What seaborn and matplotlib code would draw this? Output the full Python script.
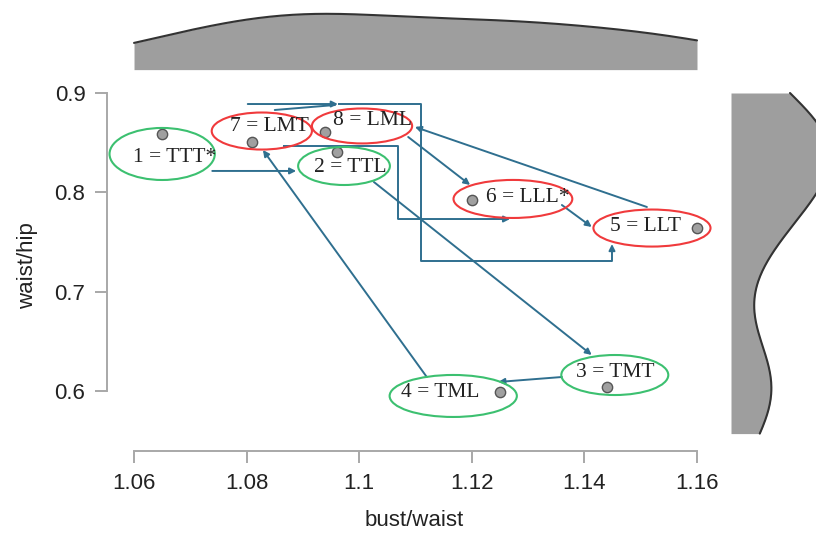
import numpy as np
import pandas as pd
import matplotlib
matplotlib.use('Agg')
import matplotlib.pyplot as plt
import seaborn as sns
from matplotlib.patches import Ellipse

# data (groups 1..8)
labels = ['1 = TTT*', '2 = TTL', '3 = TMT', '4 = TML', '5 = LLT', '6 = LLL*', '7 = LMT', '8 = LML']
bust_waist = [1.065, 1.096, 1.144, 1.125, 1.160, 1.120, 1.081, 1.094]
waist_hip = [0.859, 0.841, 0.604, 0.599, 0.764, 0.792, 0.851, 0.861]
group = ['T', 'T', 'T', 'T', 'L', 'L', 'L', 'L']

# label / ellipse placement (data units)
label_x = [1.0673, 1.0985, 1.1454, 1.1144, 1.1508, 1.1300, 1.0840, 1.1023]
label_y = [0.8355, 0.8245, 0.6190, 0.5979, 0.7651, 0.7943, 0.8658, 0.8728]
ell_x = [1.0650, 1.0973, 1.1454, 1.1167, 1.1520, 1.1273, 1.0827, 1.1005]
ell_y = [0.8386, 0.8265, 0.6160, 0.5949, 0.7640, 0.7933, 0.8617, 0.8668]
ell_w = [0.0187, 0.0163, 0.0190, 0.0226, 0.0208, 0.0211, 0.0178, 0.0178]
ell_h = [0.0524, 0.0383, 0.0403, 0.0423, 0.0373, 0.0383, 0.0373, 0.0352]

# connector paths, arrow head at the last vertex
arrow_paths = [
    [(1.0739, 0.8215), (1.0888, 0.8215)],
    [(1.0802, 0.8889), (1.0962, 0.8889)],
    [(1.0962, 0.8889), (1.1110, 0.8889), (1.1110, 0.7308), (1.1449, 0.7308), (1.1449, 0.7479)],
    [(1.0865, 0.8466), (1.1069, 0.8466), (1.1069, 0.7731), (1.1268, 0.7731)],
    [(1.1087, 0.8557), (1.1197, 0.8074)],
    [(1.1360, 0.7872), (1.1413, 0.7651)],
    [(1.1511, 0.7852), (1.1099, 0.8658)],
    [(1.1026, 0.8104), (1.1413, 0.6362)],
    [(1.1360, 0.6140), (1.1247, 0.6090)],
    [(1.1120, 0.6140), (1.0829, 0.8426)],
]
plain_lines = [
    [(1.0850, 0.8829), (1.0957, 0.8879)],
]

df = pd.DataFrame({'bust/waist': bust_waist, 'waist/hip': waist_hip, 'group': group})

sns.set_style('ticks')
plt.rcParams['font.family'] = ['Liberation Sans', 'DejaVu Sans']

W, H = 816, 536
fig = plt.figure(figsize=(W / 100, H / 100), dpi=100)

def box(l, t, r, b):
    return [l / W, 1 - b / H, (r - l) / W, (b - t) / H]

ax = fig.add_axes(box(107, 80, 722, 451))
ax_top = fig.add_axes(box(107, 8, 722, 72), sharex=ax)
ax_right = fig.add_axes(box(731, 80, 816, 451), sharey=ax)

grey = '#9e9e9e'
arrow_col = '#2f6f8f'
colors = {'T': '#3cc070', 'L': '#f03a3c'}

# connectors
for path in plain_lines:
    xs, ys = zip(*path)
    ax.plot(xs, ys, color=arrow_col, lw=1.4, zorder=2)
for path in arrow_paths:
    xs, ys = zip(*path)
    if len(path) > 2:
        ax.plot(xs[:-1], ys[:-1], color=arrow_col, lw=1.4, zorder=2, solid_capstyle='butt')
    ax.annotate('', xy=path[-1], xytext=path[-2],
                arrowprops=dict(arrowstyle='-|>', color=arrow_col, lw=1.4,
                                mutation_scale=9, shrinkA=0, shrinkB=0), zorder=2)

# points
sns.scatterplot(data=df, x='bust/waist', y='waist/hip', ax=ax, color='#a0a0a0',
                edgecolor='#555555', linewidth=1.0, s=55, zorder=3, legend=False)

# ellipses and labels
for i in range(len(labels)):
    ax.add_patch(Ellipse((ell_x[i], ell_y[i]), ell_w[i], ell_h[i], fill=False,
                         edgecolor=colors[group[i]], lw=1.5, zorder=4))
    ax.text(label_x[i], label_y[i], labels[i], ha='center', va='center',
            fontsize=15.5, family='Liberation Serif', color='#222222', zorder=5)

ax.set_xlim(1.0552, 1.16444)
ax.set_ylim(0.53948, 0.91309)
ax.set_xticks([1.06, 1.08, 1.1, 1.12, 1.14, 1.16])
ax.set_xticklabels(['1.06', '1.08', '1.1', '1.12', '1.14', '1.16'])
ax.set_yticks([0.6, 0.7, 0.8, 0.9])
ax.set_yticklabels(['0.6', '0.7', '0.8', '0.9'])
sns.despine(ax=ax)
ax.spines['left'].set_bounds(0.6, 0.9)
ax.spines['bottom'].set_bounds(1.06, 1.16)
for sp in ['left', 'bottom']:
    ax.spines[sp].set_color('#a8a8a8')
    ax.spines[sp].set_linewidth(1.4)
ax.tick_params(axis='both', length=8.5, width=1.4, color='#a8a8a8',
               labelsize=16, labelcolor='#222222', pad=7)
ax.set_xlabel('bust/waist', fontsize=16, color='#222222', labelpad=12)
ax.set_ylabel('waist/hip', fontsize=16, color='#222222', labelpad=12)

# marginal densities
bw_x, bw_y = 0.8, 0.75
sns.kdeplot(x=bust_waist, ax=ax_top, fill=True, color=grey, alpha=1, linewidth=0,
            clip=(1.06, 1.16), bw_adjust=bw_x)
sns.kdeplot(x=bust_waist, ax=ax_top, color='#333333', linewidth=1.5,
            clip=(1.06, 1.16), bw_adjust=bw_x)
top_y = ax_top.lines[0].get_ydata()
top_peak = top_y.max()
top_low = min(top_y[0], top_y[-1])
# edges sit about half way up in the reference
ax_top.set_ylim(top_peak - (top_peak - top_low) / 0.5 * 1.0, top_peak + (top_peak - top_low) / 0.5 * 0.1)

sns.kdeplot(y=waist_hip, ax=ax_right, fill=True, color=grey, alpha=1, linewidth=0,
            clip=(0.557, 0.9), bw_adjust=bw_y)
sns.kdeplot(y=waist_hip, ax=ax_right, color='#333333', linewidth=1.5,
            clip=(0.557, 0.9), bw_adjust=bw_y)
right_line = ax_right.lines[0]
dens_top = right_line.get_xdata()[np.argmax(right_line.get_ydata())]
ax_right.set_xlim(0, dens_top * 85 / 59)

for a in (ax_top, ax_right):
    a.axis('off')

fig.savefig('out.png', dpi=100)
